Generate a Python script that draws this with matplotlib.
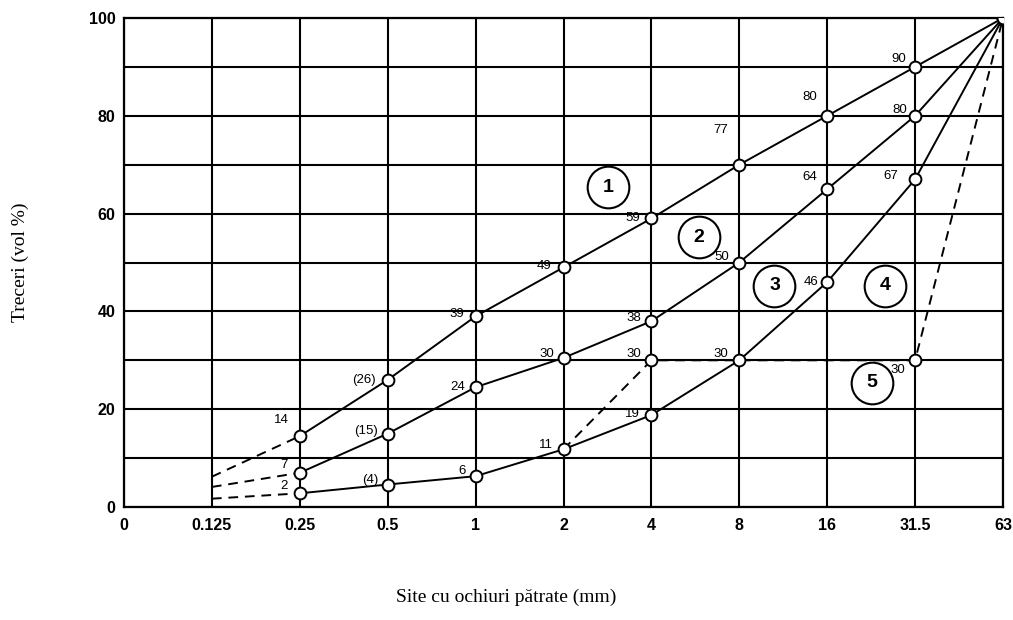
import matplotlib
matplotlib.use("Agg")
import matplotlib.pyplot as plt

# sieve sizes (categorical positions)
sieves = ["0", "0.125", "0.25", "0.5", "1", "2", "4", "8", "16", "31.5", "63"]

# curve values at sieves 0.25 ... 63 (index 2..10)
curve1 = [14.5, 26, 39, 49, 59, 70, 80, 90, 100]
curve2 = [7, 15, 24.5, 30.5, 38, 50, 65, 80, 100]
curve3 = [2.8, 4.6, 6.3, 11.8, 18.8, 30, 46, 67, 100]
# dashed extrapolation at 0.125 for curves 1..3
ext_0125 = [6.2, 4.1, 1.7]
# discontinuous grading (4/5), at sieves 2, 4, 31.5, 63
gap_x = ["2", "4", "31.5", "63"]
gap_y = [11.8, 30, 30, 100]

labels1 = ["14", "(26)", "39", "49", "59", "77", "80", "90", ""]
labels2 = ["7", "(15)", "24", "30", "38", "50", "64", "80", ""]
labels3 = ["2", "(4)", "6", "11", "19", "30", "46", "67", ""]
gap_labels = ["", "30", "30", ""]

zone_names = ["1", "2", "3", "4", "5"]
zone_x = [5.51, 6.54, 7.40, 8.66, 8.51]
zone_y = [65.4, 55.2, 45.2, 45.2, 25.4]

fig = plt.figure(figsize=(10.13, 6.2), dpi=100)
ax = fig.add_axes([124 / 1013, 1 - 507 / 620, 879 / 1013, 489 / 620])

xi = {s: i for i, s in enumerate(sieves)}
xs = list(range(2, 11))

ax.set_xlim(0, 10)
ax.set_ylim(0, 100)
ax.set_xticks(range(len(sieves)))
ax.set_xticklabels(sieves)
ax.set_yticks(range(0, 101, 20))
ax.set_yticks(range(10, 100, 20), minor=True)
ax.grid(True, which="both", color="black", lw=1.5)
ax.set_axisbelow(True)
for sp in ax.spines.values():
    sp.set_color("black")
    sp.set_linewidth(1.6)
ax.tick_params(which="both", length=0)
ax.tick_params(axis="x", pad=8)
ax.tick_params(axis="y", pad=6)
for lab in ax.get_xticklabels() + ax.get_yticklabels():
    lab.set_fontfamily("Liberation Sans")
    lab.set_fontweight("bold")
    lab.set_fontsize(11.5)

mk = dict(marker="o", markersize=8.5, markerfacecolor="white",
          markeredgecolor="black", markeredgewidth=1.4)
dash = (0, (5, 3.5))

curves = [curve1, curve2, curve3]
for c, e in zip(curves, ext_0125):
    ax.plot([1, 2], [e, c[0]], color="black", lw=1.4, ls=dash, zorder=3)
    ax.plot(xs, c, color="black", lw=1.4, zorder=4, **mk)

gx = [xi[s] for s in gap_x]
ax.plot(gx, gap_y, color="black", lw=1.4, ls=dash, zorder=3)
ax.plot(gx[1:3], gap_y[1:3], ls="none", zorder=5, **mk)

tf = dict(fontsize=9.5, fontfamily="Liberation Sans", zorder=6)
# per-curve label offsets (pixels)
off1 = [(-18, 16), (-24, 0), (-19, 2), (-19, 1), (-19, 0), (-19, 35), (-17, 19), (-16, 8), (0, 0)]
off2 = [(-16, 8), (-22, 3), (-18, 0), (-17, 4), (-18, 3), (-18, 6), (-17, 12), (-15, 6), (0, 0)]
off3 = [(-16, 7), (-17, 5), (-14, 5), (-18, 4), (-19, 1), (-18, 6), (-16, 0), (-24, 3), (0, 0)]
for c, labs, offs in zip(curves, [labels1, labels2, labels3], [off1, off2, off3]):
    for x, y, t, o in zip(xs, c, labs, offs):
        if t:
            ax.annotate(t, (x, y), xytext=o, textcoords="offset pixels",
                        ha="center", va="center", **tf)
gap_offs = [(0, 0), (-18, 6), (-17, -10), (0, 0)]
for x, y, t, o in zip(gx, gap_y, gap_labels, gap_offs):
    if t:
        ax.annotate(t, (x, y), xytext=o, textcoords="offset pixels",
                    ha="center", va="center", **tf)

for n, x, y in zip(zone_names, zone_x, zone_y):
    ax.plot([x], [y], marker="o", markersize=30, markerfacecolor="white",
            markeredgecolor="black", markeredgewidth=1.5, zorder=6)
    ax.text(x, y, n, ha="center", va="center", fontsize=14, fontweight="bold",
            fontfamily="Liberation Sans", zorder=7)

fig.text(20 / 1013, 1 - 262 / 620, "Treceri (vol %)", rotation=90,
         ha="center", va="center", fontsize=14, fontfamily="Liberation Serif")
fig.text(506 / 1013, 1 - 597 / 620, "Site cu ochiuri pătrate (mm)",
         ha="center", va="center", fontsize=14, fontfamily="Liberation Serif")

fig.savefig("out.png", dpi=100)
